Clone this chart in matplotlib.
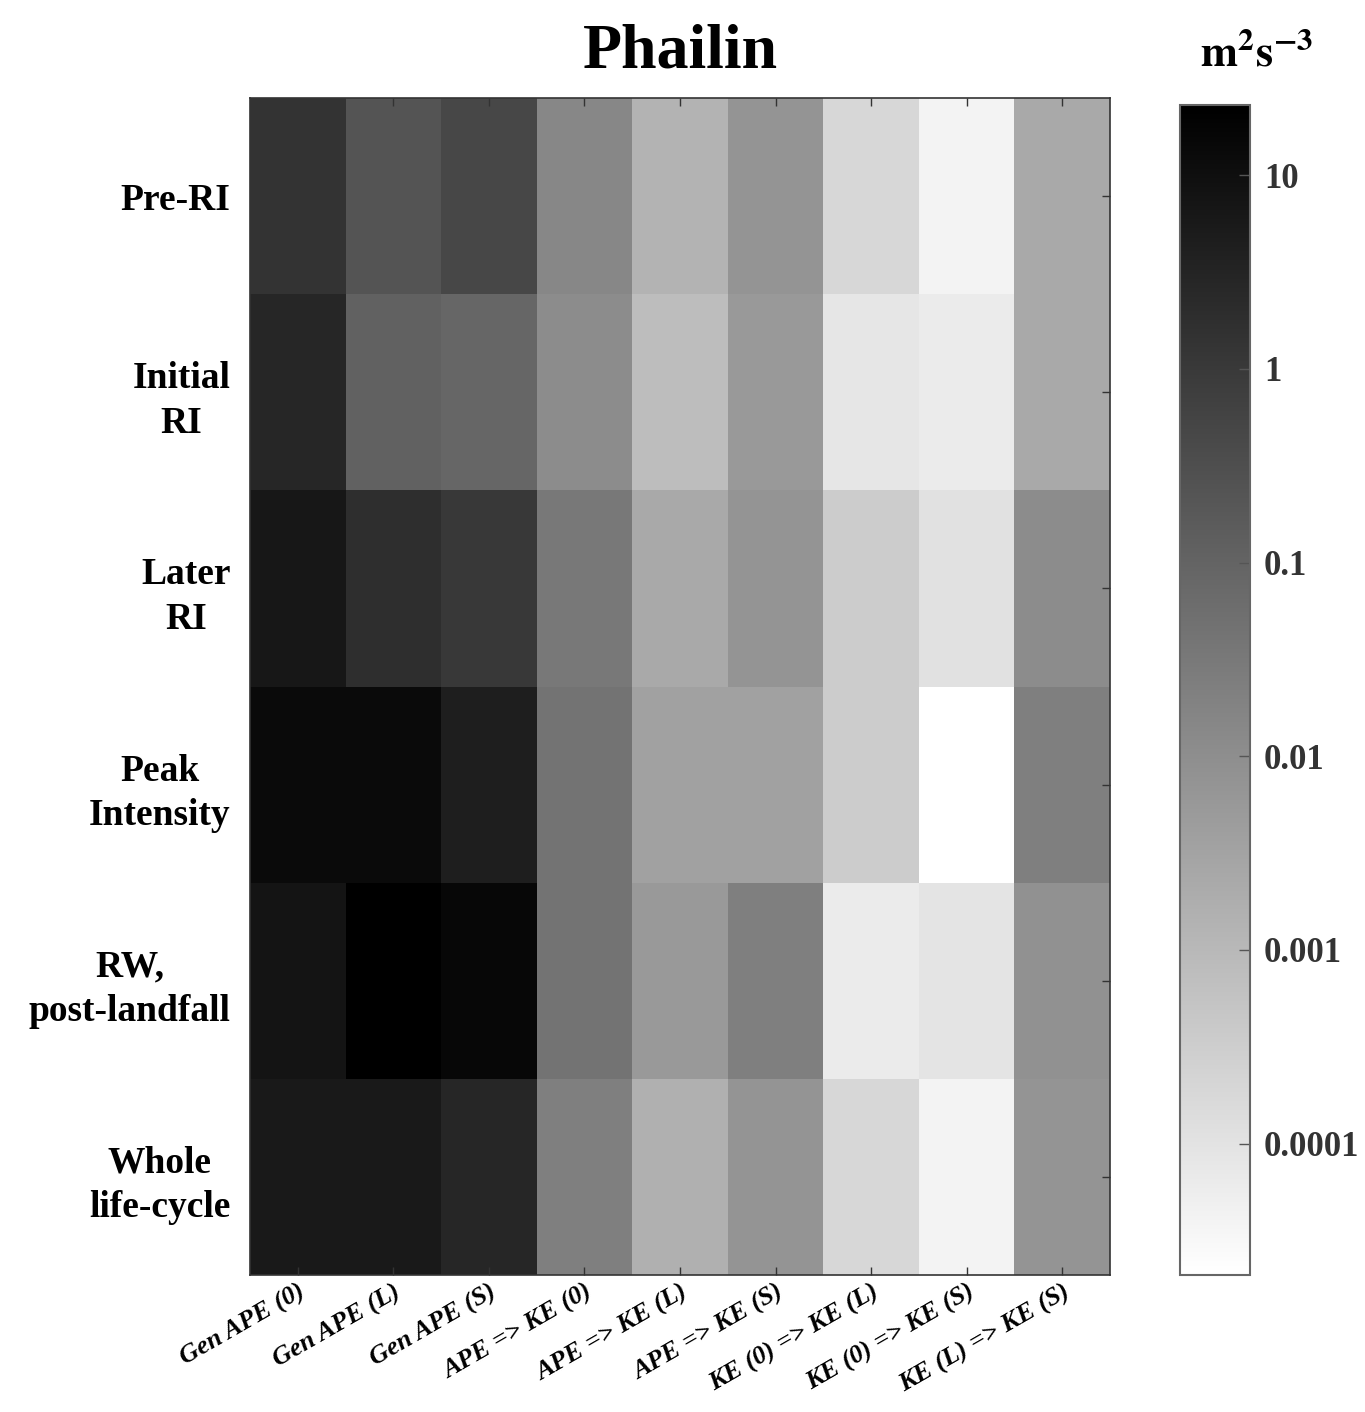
import numpy as np
import matplotlib
matplotlib.use('Agg')
import matplotlib.pyplot as plt
from matplotlib.colors import LogNorm

plt.rcParams['font.family'] = 'Liberation Serif'
plt.rcParams['mathtext.fontset'] = 'stix'

# rows: phases, columns: energy terms (m^2 s^-3)
phases = ['Pre-RI', 'Initial\nRI', 'Later\nRI', 'Peak\nIntensity', 'RW,\npost-landfall', 'Whole\nlife-cycle']
terms = ['Gen APE (0)', 'Gen APE (L)', 'Gen APE (S)',
         'APE => KE (0)', 'APE => KE (L)', 'APE => KE (S)',
         'KE (0) => KE (L)', 'KE (0) => KE (S)', 'KE (L) => KE (S)']

pre_ri    = [1.42, 0.233, 0.467, 0.0144, 0.00136, 0.0072, 1.93e-4, 4.2e-5, 0.00236]
initial   = [2.84, 0.116, 0.088, 0.0109, 7.8e-4, 0.00544, 8.4e-5, 6.4e-5, 0.00236]
later     = [6.5, 1.87, 1.07, 0.033, 0.00236, 0.0072, 3.4e-4, 1.1e-4, 0.0109]
peak      = [13.1, 13.1, 4.3, 0.044, 0.0036, 0.0036, 3.4e-4, 1.5e-5, 0.022]
rw        = [7.5, 23.0, 15.1, 0.044, 0.0054, 0.022, 6.4e-5, 9.6e-5, 0.0083]
whole     = [5.7, 5.7, 2.84, 0.022, 0.00156, 0.0072, 1.93e-4, 4.2e-5, 0.0072]

data = np.array([pre_ri, initial, later, peak, rw, whole])
vmin, vmax = 2.1e-5, 23.0

fig = plt.figure(figsize=(13.65, 14.12), dpi=100)
ax = fig.add_axes([250/1365, 1 - 1275/1412, 860/1365, 1177/1412])
cax = fig.add_axes([1180/1365, 1 - 1275/1412, 70/1365, 1170/1412])

mesh = ax.pcolormesh(np.arange(len(terms) + 1), np.arange(len(phases) + 1), data,
                     cmap='gray_r', norm=LogNorm(vmin=vmin, vmax=vmax))
ax.set_xlim(0, len(terms))
ax.set_ylim(len(phases), 0)

ax.set_xticks(np.arange(len(terms)) + 0.5)
ax.set_xticklabels(terms, rotation=30, ha='right', rotation_mode='anchor',
                   fontsize=19, fontweight='bold', fontstyle='italic')
ax.set_yticks(np.arange(len(phases)) + 0.5)
ax.set_yticklabels(phases, fontsize=27, fontweight='bold', ha='right',
                   multialignment='center', linespacing=1.35)
ax.tick_params(axis='y', pad=14)
ax.tick_params(axis='x', pad=4)
ax.tick_params(direction='in', length=6, width=1, top=True, right=True, color='#333333')
ax.tick_params(axis='y', left=False)
for s in ax.spines.values():
    s.set_color('#333333')
    s.set_linewidth(1.2)

ax.set_title('Phailin', fontsize=46, fontweight='bold', pad=22)

cb = fig.colorbar(mesh, cax=cax)
cb.set_ticks([10, 1, 0.1, 0.01, 0.001, 0.0001])
cb.set_ticklabels(['10', '1', '0.1', '0.01', '0.001', '0.0001'])
cax.minorticks_off()
cax.tick_params(direction='in', length=8, width=1, labelsize=25, pad=10, color='#555555')
for lab in cax.get_yticklabels():
    lab.set_fontweight('bold')
    lab.set_color('#333333')
cb.outline.set_edgecolor('#666666')
cb.outline.set_linewidth(1.5)

fig.text(1257/1365, 1 - 55/1412, r'$\mathbf{m}^{\mathbf{2}}\mathbf{s}^{\mathbf{-3}}$',
         fontsize=32, ha='center', va='center')

fig.savefig('out.png', dpi=100, facecolor='white')
